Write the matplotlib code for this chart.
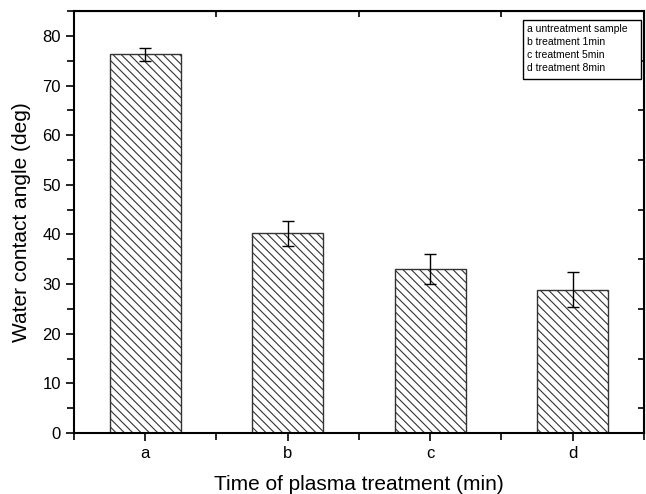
import matplotlib
matplotlib.use('Agg')
import matplotlib.pyplot as plt
from matplotlib.patches import Rectangle
from matplotlib.ticker import MultipleLocator, NullLocator, FixedLocator

plt.rcParams['font.family'] = ['Liberation Sans', 'DejaVu Sans']
plt.rcParams['hatch.linewidth'] = 0.8

categories = ['a', 'b', 'c', 'd']
angles = [76.3, 40.2, 33.1, 28.9]
errors = [1.3, 2.5, 3.0, 3.5]
legend_lines = ['a untreatment sample', 'b treatment 1min',
                'c treatment 5min', 'd treatment 8min']

fig = plt.figure(figsize=(6.46, 4.94), dpi=100)
ax = fig.add_axes([0.1146, 0.1235, 0.882, 0.854])

x = range(len(categories))
ax.bar(x, angles, width=0.5, color='white', edgecolor='#333333',
       linewidth=1.0, hatch=r'\\\\')
ax.errorbar(x, angles, yerr=errors, fmt='none', ecolor='black',
            elinewidth=1.0, capsize=4, capthick=1.0)

ax.set_xlim(-0.5, 3.5)
ax.set_ylim(0, 85)
ax.set_xticks(list(x))
ax.set_xticklabels(categories)
ax.set_xticks([-0.5, 0.5, 1.5, 2.5, 3.5], minor=True)
ax.yaxis.set_major_locator(MultipleLocator(10))
ax.yaxis.set_minor_locator(MultipleLocator(5))

ax.tick_params(which='both', direction='out', labelsize=12, width=1.2)
ax.tick_params(which='major', length=6)
ax.tick_params(which='minor', length=5)
for s in ax.spines.values():
    s.set_linewidth(1.5)

# inward minor ticks on the top and right frame
top = ax.secondary_xaxis('top')
top.xaxis.set_major_locator(NullLocator())
top.xaxis.set_minor_locator(FixedLocator([0.5, 1.5, 2.5]))
top.tick_params(which='minor', direction='in', length=4, width=1.2)
right = ax.secondary_yaxis('right')
right.yaxis.set_major_locator(NullLocator())
right.yaxis.set_minor_locator(FixedLocator([5, 15, 25, 35, 45, 55, 65, 75]))
right.tick_params(which='minor', direction='in', length=4, width=1.2)

ax.set_ylabel('Water contact angle (deg)', fontsize=15, labelpad=8)
ax.set_xlabel('Time of plasma treatment (min)', fontsize=15, labelpad=10)

# legend box: plain text lines
ax.add_patch(Rectangle((0.788, 0.839), 0.207, 0.140, transform=ax.transAxes,
                       facecolor='white', edgecolor='black', linewidth=1.0,
                       zorder=5))
ax.text(0.795, 0.970, '\n'.join(legend_lines), transform=ax.transAxes,
        fontsize=7.5, va='top', ha='left', linespacing=1.38, zorder=6)

fig.savefig('out.png', dpi=100)
